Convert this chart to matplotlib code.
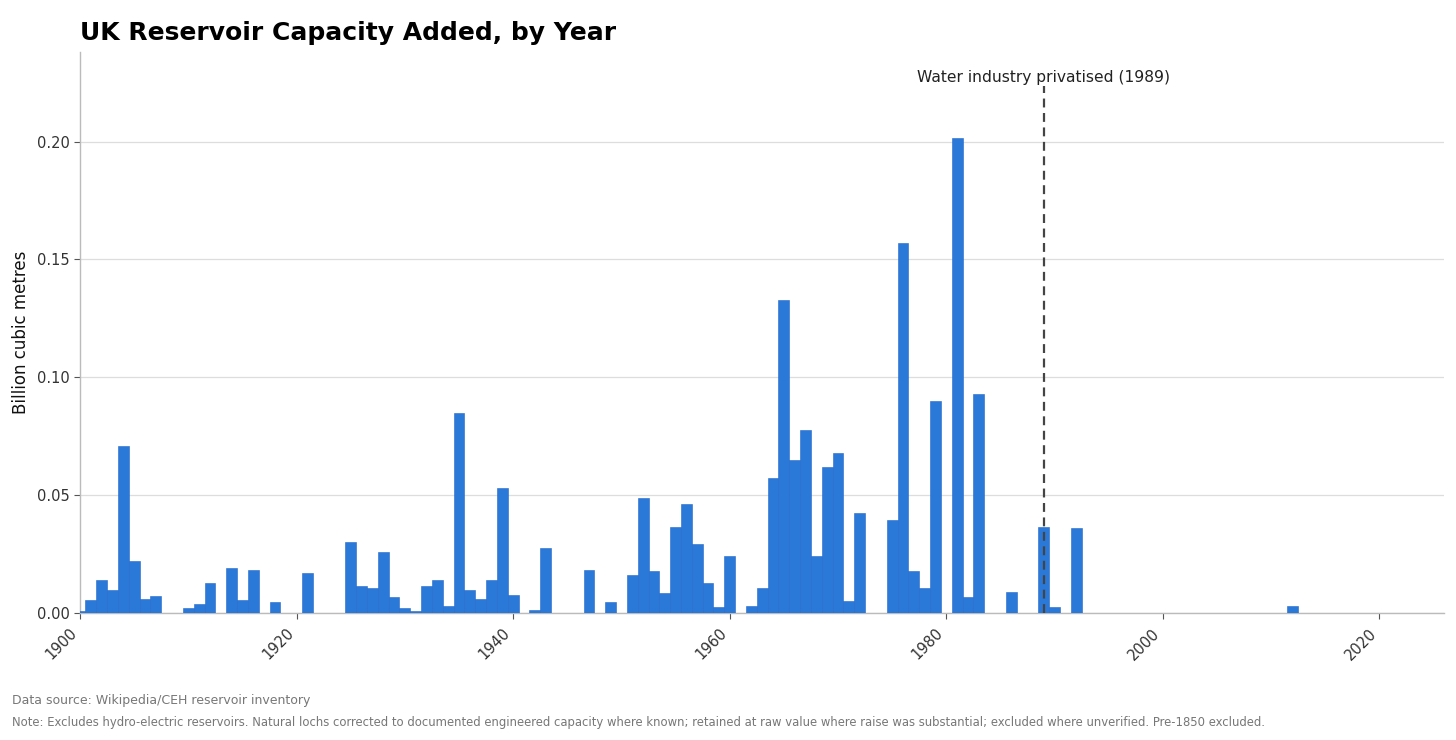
import matplotlib
matplotlib.use('Agg')
import matplotlib.pyplot as plt
import numpy as np

# Capacity added per year (billion cubic metres), years with no additions left out
years = [1900, 1901, 1902, 1903, 1904, 1905, 1906, 1907,
         1910, 1911, 1912, 1914, 1915, 1916, 1918, 1921,
         1925, 1926, 1927, 1928, 1929, 1930, 1931, 1932, 1933, 1934,
         1935, 1936, 1937, 1938, 1939, 1940, 1942, 1943, 1947, 1949,
         1951, 1952, 1953, 1954, 1955, 1956, 1957, 1958, 1959, 1960,
         1962, 1963, 1964, 1965, 1966, 1967, 1968, 1969, 1970, 1971, 1972,
         1975, 1976, 1977, 1978, 1979, 1981, 1982, 1983, 1986,
         1989, 1990, 1992, 2012]
capacity = [0.001, 0.0054, 0.014, 0.0097, 0.071, 0.0222, 0.0058, 0.0074,
            0.002, 0.0037, 0.0126, 0.0193, 0.0057, 0.0182, 0.0045, 0.0168,
            0.0301, 0.0114, 0.0105, 0.0259, 0.0068, 0.002, 0.0009, 0.0114, 0.014, 0.0031,
            0.085, 0.0097, 0.0061, 0.014, 0.053, 0.0078, 0.0013, 0.0276, 0.0183, 0.0045,
            0.0161, 0.0486, 0.0178, 0.0086, 0.0365, 0.0462, 0.0292, 0.0129, 0.0024, 0.0241,
            0.003, 0.0107, 0.0574, 0.1327, 0.065, 0.0777, 0.0243, 0.0618, 0.0679, 0.0053, 0.0426,
            0.0395, 0.157, 0.0179, 0.0107, 0.0898, 0.2017, 0.007, 0.0928, 0.0088,
            0.0366, 0.0027, 0.0359, 0.003]

privatisation_year = 1989
privatisation_label = 'Water industry privatised (1989)'
xticks = [1900, 1920, 1940, 1960, 1980, 2000, 2020]
yticks = [0.0, 0.05, 0.10, 0.15, 0.20]

fig = plt.figure(figsize=(14.56, 7.4), dpi=100)
ax = fig.add_axes([0.055, 0.1716, 0.937, 0.758])

ax.bar(years, capacity, width=1.0, color='#2a78d8', edgecolor='#2468c8',
       linewidth=0.4, zorder=3)

ax.plot([privatisation_year, privatisation_year], [0, 0.2235], color='#444444',
        linestyle='--', linewidth=1.6, dashes=(4, 2.5), zorder=4)
ax.text(privatisation_year, 0.2272, privatisation_label, ha='center', va='center',
        fontsize=11.2, color='#222222')

ax.set_xlim(1900, 2026)
ax.set_ylim(0, 0.238)
ax.set_xticks(xticks)
ax.set_xticklabels([str(x) for x in xticks], rotation=45, ha='right',
                   fontsize=10.5, color='#333333')
ax.set_yticks(yticks)
ax.set_yticklabels(['%.2f' % v for v in yticks], fontsize=10.5, color='#333333')
ax.tick_params(axis='both', colors='#555555', length=4, width=0.8, labelcolor='#333333')
ax.tick_params(axis='x', pad=5)

ax.grid(axis='y', color='#dddddd', linewidth=0.9, zorder=0)
ax.set_axisbelow(True)
for s in ['top', 'right']:
    ax.spines[s].set_visible(False)
for s in ['left', 'bottom']:
    ax.spines[s].set_color('#bbbbbb')
    ax.spines[s].set_linewidth(1.0)

ax.set_ylabel('Billion cubic metres', fontsize=12, color='#111111', labelpad=5)

fig.text(0.055, 0.955, 'UK Reservoir Capacity Added, by Year', fontsize=18,
         fontweight='bold', ha='left', va='center')
fig.text(0.008, 0.053, 'Data source: Wikipedia/CEH reservoir inventory',
         fontsize=9, color='#777777', ha='left', va='center')
fig.text(0.008, 0.024, 'Note: Excludes hydro-electric reservoirs. Natural lochs corrected to documented '
         'engineered capacity where known; retained at raw value where raise was substantial; '
         'excluded where unverified. Pre-1850 excluded.',
         fontsize=8.4, color='#777777', ha='left', va='center')

fig.savefig('out.png', dpi=100)
